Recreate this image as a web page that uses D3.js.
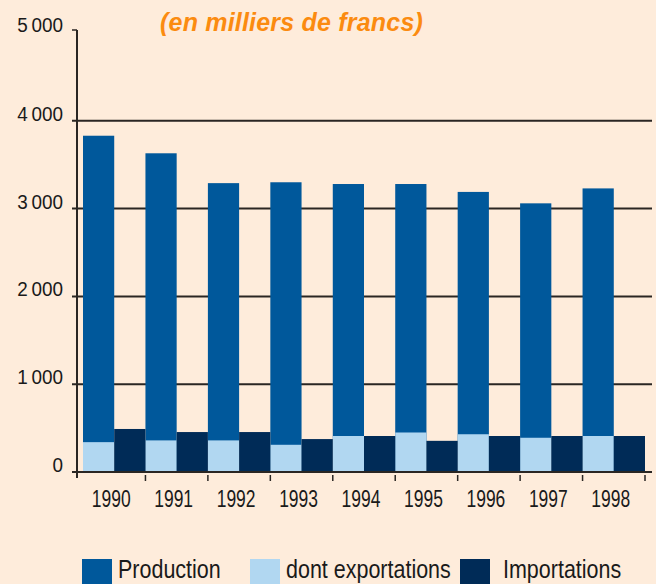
<!DOCTYPE html>
<html>
<head>
<meta charset="utf-8">
<script src="https://cdn.jsdelivr.net/npm/d3@7"></script>
<style>
  html, body { margin: 0; padding: 0; background: #feecdb; }
  svg text { font-family: "Liberation Sans", Arial, Helvetica, sans-serif; }
</style>
</head>
<body>
<div id="chart"></div>
<script>
// values (thousands of francs)
const years = ["1990", "1991", "1992", "1993", "1994", "1995", "1996", "1997", "1998"];
const production = [3830, 3630, 3290, 3300, 3280, 3280, 3190, 3060, 3230];
const exportations = [340, 360, 360, 310, 410, 450, 430, 390, 410];
const importations = [490, 455, 455, 375, 410, 355, 410, 410, 410];
const yTicks = [0, 1000, 2000, 3000, 4000, 5000];
const legendItems = ["Production", "dont exportations", "Importations"];

const colors = {
    production: "#00589b",
    exportations: "#b1d7f1",
    importations: "#002b57",
    axis: "#2a2623"
};

function init() {
    const width = 656;
    const height = 584;

    const svg = d3.select("#chart").append("svg")
        .attr("width", width)
        .attr("height", height);

    svg.append("rect")
        .attr("width", width)
        .attr("height", height)
        .attr("fill", "#feecdb");

    const axisX = 77;
    const baseY = 472;

    const y = d3.scaleLinear()
        .domain([0, 5000])
        .range([baseY, 33]);

    const x = d3.scaleBand()
        .domain(years)
        .range([83, 645])
        .padding(0);

    const half = x.bandwidth() / 2;

    // gridlines (1000..4000)
    svg.append("g")
        .selectAll("line")
        .data(yTicks.filter(d => d > 0 && d < 5000))
        .join("line")
        .attr("x1", axisX - 5)
        .attr("x2", 652)
        .attr("y1", d => y(d))
        .attr("y2", d => y(d))
        .attr("stroke", colors.axis)
        .attr("stroke-width", 2);

    // production bars
    svg.append("g")
        .selectAll("rect")
        .data(years)
        .join("rect")
        .attr("x", d => x(d))
        .attr("width", half)
        .attr("y", (d, i) => y(production[i]))
        .attr("height", (d, i) => y(0) - y(production[i]))
        .attr("fill", colors.production);

    // exports (part of production)
    svg.append("g")
        .selectAll("rect")
        .data(years)
        .join("rect")
        .attr("x", d => x(d))
        .attr("width", half)
        .attr("y", (d, i) => y(exportations[i]))
        .attr("height", (d, i) => y(0) - y(exportations[i]))
        .attr("fill", colors.exportations);

    // imports
    svg.append("g")
        .selectAll("rect")
        .data(years)
        .join("rect")
        .attr("x", d => x(d) + half)
        .attr("width", half)
        .attr("y", (d, i) => y(importations[i]))
        .attr("height", (d, i) => y(0) - y(importations[i]))
        .attr("fill", colors.importations);

    // baseline
    svg.append("line")
        .attr("x1", axisX - 5)
        .attr("x2", 652)
        .attr("y1", baseY)
        .attr("y2", baseY)
        .attr("stroke", colors.axis)
        .attr("stroke-width", 2);

    // y axis line
    svg.append("line")
        .attr("x1", axisX)
        .attr("x2", axisX)
        .attr("y1", y(5000) - 3)
        .attr("y2", baseY + 6)
        .attr("stroke", colors.axis)
        .attr("stroke-width", 2);

    // small tick at 5000
    svg.append("line")
        .attr("x1", axisX - 5)
        .attr("x2", axisX)
        .attr("y1", y(5000) - 3)
        .attr("y2", y(5000) - 3)
        .attr("stroke", colors.axis)
        .attr("stroke-width", 1.5);

    // y labels
    svg.append("g")
        .selectAll("text")
        .data(yTicks)
        .join("text")
        .attr("transform", d => `translate(63,${y(d) + (d === 5000 ? -1 : 0)}) scale(0.9,1)`)
        .attr("text-anchor", "end")
        .attr("font-size", 21)
        .attr("fill", "#1a1a1a")
        .text(d => d3.format(",")(d).replace(",", "\u2009"));

    // x ticks at band boundaries
    svg.append("g")
        .selectAll("line")
        .data(years)
        .join("line")
        .attr("x1", d => x(d) + x.bandwidth())
        .attr("x2", d => x(d) + x.bandwidth())
        .attr("y1", baseY + 3)
        .attr("y2", baseY + 9)
        .attr("stroke", colors.axis)
        .attr("stroke-width", 1.5);

    // year labels
    svg.append("g")
        .selectAll("text")
        .data(years)
        .join("text")
        .attr("transform", d => `translate(${x(d) + half - 3},507) scale(0.76,1)`)
        .attr("text-anchor", "middle")
        .attr("font-size", 23)
        .attr("fill", "#1a1a1a")
        .text(d => d);

    // title
    svg.append("text")
        .attr("x", 160)
        .attr("y", 31)
        .attr("font-size", 25)
        .attr("font-weight", "bold")
        .attr("font-style", "italic")
        .attr("letter-spacing", 0.2)
        .attr("fill", "#fb8b10")
        .text("(en milliers de francs)");

    // legend
    const legendX = [82, 250, 460];
    const legendColors = [colors.production, colors.exportations, colors.importations];
    const legend = svg.append("g")
        .selectAll("g")
        .data(legendItems)
        .join("g")
        .attr("transform", (d, i) => `translate(${legendX[i]},559)`);

    legend.append("rect")
        .attr("width", 30)
        .attr("height", 30)
        .attr("fill", (d, i) => legendColors[i]);

    legend.append("text")
        .attr("transform", (d, i) => `translate(${i === 2 ? 43 : 36},19) scale(0.86,1)`)
        .attr("font-size", 25)
        .attr("fill", "#1a1a1a")
        .text(d => d);
}

window.addEventListener('load', init);
</script>
</body>
</html>
